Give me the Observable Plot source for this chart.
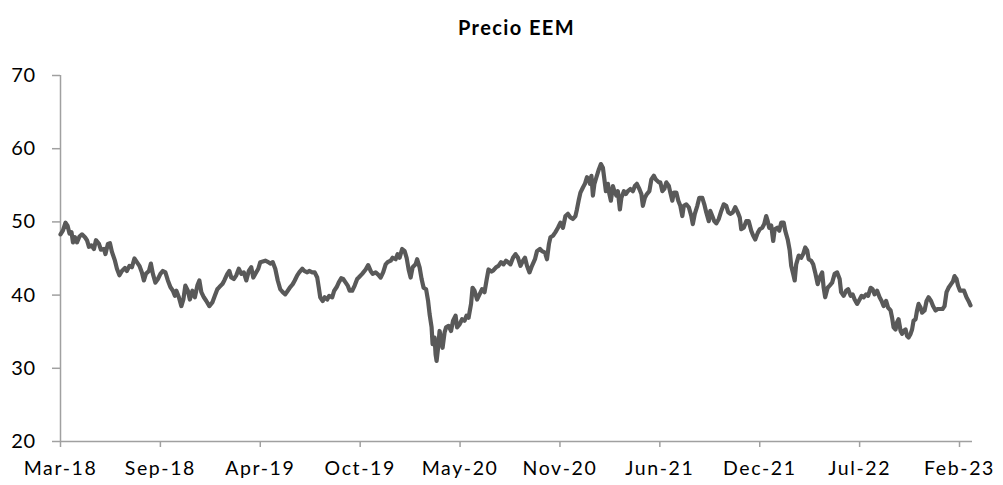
<!DOCTYPE html>
<html>
<head>
<meta charset="utf-8">
<script src="https://cdn.jsdelivr.net/npm/d3@7"></script>
<script src="https://cdn.jsdelivr.net/npm/@observablehq/plot@0.6"></script>
<style>
html, body { margin: 0; padding: 0; background: #fff; }
#title { font-family: Lato, sans-serif; font-weight: bold; font-size: 20px; line-height: 24px; letter-spacing: 1.4px;
  width: 1003px; height: 50px; padding-top: 15px; padding-left: 30px; box-sizing: border-box; text-align: center; color: #000; }
g[aria-label="x-axis tick label"] text { letter-spacing: 1.6px; }
g[aria-label="y-axis tick label"] text { letter-spacing: 0.5px; }
</style>
</head>
<body>
<div id="title">Precio EEM</div>
<div id="chart"></div>
<script>
const dates = [
"2018-03-01","2018-03-06","2018-03-11","2018-03-15","2018-03-19","2018-03-23","2018-03-26","2018-03-30","2018-04-03","2018-04-08",
"2018-04-13","2018-04-19","2018-04-23","2018-04-27","2018-05-02","2018-05-07","2018-05-11","2018-05-17","2018-05-21","2018-05-27",
"2018-05-30","2018-06-04","2018-06-08","2018-06-12","2018-06-18","2018-06-22","2018-06-27","2018-07-02","2018-07-08","2018-07-12",
"2018-07-17","2018-07-22","2018-07-27","2018-08-01","2018-08-06","2018-08-11","2018-08-15","2018-08-19","2018-08-25","2018-08-29",
"2018-09-02","2018-09-07","2018-09-12","2018-09-17","2018-09-22","2018-09-27","2018-10-02","2018-10-07","2018-10-12","2018-10-16",
"2018-10-19","2018-10-24","2018-10-29","2018-11-02","2018-11-06","2018-11-11","2018-11-15","2018-11-20","2018-11-25","2018-11-30",
"2018-12-04","2018-12-08","2018-12-13","2018-12-18","2018-12-24","2018-12-30","2019-01-04","2019-01-09","2019-01-13","2019-01-19",
"2019-01-23","2019-01-29","2019-02-02","2019-02-06","2019-02-11","2019-02-16","2019-02-21","2019-02-26","2019-03-03","2019-03-08",
"2019-03-13","2019-03-18","2019-03-22","2019-03-26","2019-04-01","2019-04-05","2019-04-10","2019-04-15","2019-04-21","2019-04-25",
"2019-04-30","2019-05-05","2019-05-10","2019-05-15","2019-05-20","2019-05-25","2019-05-30","2019-06-04","2019-06-09","2019-06-13",
"2019-06-18","2019-06-22","2019-06-28","2019-07-02","2019-07-08","2019-07-12","2019-07-18","2019-07-23","2019-07-28","2019-07-31",
"2019-08-03","2019-08-08","2019-08-12","2019-08-17","2019-08-21","2019-08-27","2019-08-31","2019-09-05","2019-09-09","2019-09-14",
"2019-09-18","2019-09-23","2019-09-27","2019-10-01","2019-10-06","2019-10-11","2019-10-16","2019-10-19","2019-10-26","2019-11-02",
"2019-11-07","2019-11-12","2019-11-16","2019-11-22","2019-11-27","2019-12-02","2019-12-07","2019-12-12","2019-12-16","2019-12-22",
"2019-12-26","2020-01-01","2020-01-05","2020-01-09","2020-01-14","2020-01-19","2020-01-23","2020-01-27","2020-01-31","2020-02-04",
"2020-02-10","2020-02-13","2020-02-18","2020-02-22","2020-02-26","2020-03-02","2020-03-06","2020-03-09","2020-03-13","2020-03-15",
"2020-03-19","2020-03-21","2020-03-23","2020-03-26","2020-03-29","2020-04-01","2020-04-04","2020-04-08","2020-04-11","2020-04-16",
"2020-04-21","2020-04-25","2020-04-30","2020-05-03","2020-05-08","2020-05-13","2020-05-18","2020-05-22","2020-05-26","2020-05-31",
"2020-06-03","2020-06-07","2020-06-12","2020-06-17","2020-06-22","2020-06-27","2020-07-01","2020-07-05","2020-07-11","2020-07-15",
"2020-07-20","2020-07-25","2020-07-30","2020-08-04","2020-08-09","2020-08-13","2020-08-18","2020-08-23","2020-08-28","2020-09-02",
"2020-09-07","2020-09-12","2020-09-16","2020-09-20","2020-09-25","2020-09-30","2020-10-06","2020-10-10","2020-10-16","2020-10-20",
"2020-10-26","2020-10-30","2020-11-03","2020-11-06","2020-11-11","2020-11-16","2020-11-21","2020-11-26","2020-12-01","2020-12-06",
"2020-12-11","2020-12-16","2020-12-21","2020-12-26","2020-12-29","2021-01-02","2021-01-05","2021-01-10","2021-01-14","2021-01-18",
"2021-01-22","2021-01-24","2021-01-27","2021-01-30","2021-02-02","2021-02-06","2021-02-11","2021-02-15","2021-02-19","2021-02-22",
"2021-02-25","2021-03-01","2021-03-04","2021-03-07","2021-03-11","2021-03-14","2021-03-18","2021-03-21","2021-03-25","2021-03-28",
"2021-04-02","2021-04-06","2021-04-10","2021-04-15","2021-04-20","2021-04-24","2021-04-28","2021-05-03","2021-05-07","2021-05-10",
"2021-05-14","2021-05-18","2021-05-23","2021-05-27","2021-06-01","2021-06-05","2021-06-11","2021-06-14","2021-06-18","2021-06-22",
"2021-06-26","2021-07-01","2021-07-04","2021-07-08","2021-07-11","2021-07-16","2021-07-20","2021-07-24","2021-07-28","2021-07-31",
"2021-08-05","2021-08-10","2021-08-15","2021-08-18","2021-08-22","2021-08-27","2021-08-31","2021-09-06","2021-09-10","2021-09-14",
"2021-09-19","2021-09-22","2021-09-26","2021-09-30","2021-10-04","2021-10-09","2021-10-14","2021-10-19","2021-10-24","2021-10-28",
"2021-11-01","2021-11-06","2021-11-11","2021-11-16","2021-11-20","2021-11-23","2021-11-28","2021-12-03","2021-12-08","2021-12-13",
"2021-12-17","2021-12-21","2021-12-26","2021-12-30","2022-01-04","2022-01-08","2022-01-12","2022-01-15","2022-01-18","2022-01-22",
"2022-01-26","2022-01-29","2022-02-03","2022-02-07","2022-02-11","2022-02-16","2022-02-19","2022-02-24","2022-02-28","2022-03-03",
"2022-03-07","2022-03-10","2022-03-13","2022-03-18","2022-03-23","2022-03-27","2022-03-31","2022-04-04","2022-04-07","2022-04-12",
"2022-04-16","2022-04-20","2022-04-25","2022-04-29","2022-05-04","2022-05-07","2022-05-10","2022-05-15","2022-05-19","2022-05-24",
"2022-05-29","2022-06-03","2022-06-08","2022-06-11","2022-06-16","2022-06-21","2022-06-25","2022-06-30","2022-07-04","2022-07-08",
"2022-07-13","2022-07-18","2022-07-22","2022-07-26","2022-07-31","2022-08-04","2022-08-09","2022-08-13","2022-08-17","2022-08-22",
"2022-08-27","2022-08-31","2022-09-04","2022-09-09","2022-09-13","2022-09-18","2022-09-21","2022-09-24","2022-09-28","2022-10-01",
"2022-10-04","2022-10-08","2022-10-11","2022-10-14","2022-10-18","2022-10-21","2022-10-24","2022-10-28","2022-10-31","2022-11-03",
"2022-11-07","2022-11-10","2022-11-13","2022-11-17","2022-11-20","2022-11-25","2022-11-29","2022-12-03","2022-12-08","2022-12-12",
"2022-12-17","2022-12-21","2022-12-27","2022-12-31","2023-01-04","2023-01-08","2023-01-12","2023-01-17","2023-01-21","2023-01-24",
"2023-01-28","2023-01-31","2023-02-04","2023-02-08","2023-02-12","2023-02-17","2023-02-21","2023-02-25"
];
const values = [
48.3,48.85,49.9,49.5,48.4,48.6,47.2,47.9,47.2,48.0,
48.3,47.9,47.5,46.6,46.8,46.3,47.5,47.0,46.2,46.3,
45.6,47.0,47.1,45.9,44.7,43.6,42.7,43.3,43.7,43.3,
44.0,43.8,45.0,44.5,44.0,43.1,42.0,42.9,43.3,44.3,
42.9,41.7,42.2,42.9,43.3,43.1,42.0,41.1,40.6,39.9,
40.6,39.7,38.5,39.4,41.3,40.6,39.4,40.6,39.7,41.3,
42.0,40.4,39.7,39.2,38.5,39.0,39.9,40.8,41.1,41.5,
42.0,42.9,43.3,42.4,42.2,42.7,43.6,42.9,43.1,42.0,
43.3,43.8,42.4,42.9,43.6,44.5,44.6,44.7,44.5,44.3,
44.5,43.6,42.0,40.8,40.4,40.1,40.6,41.1,41.5,42.0,
42.7,43.1,43.6,43.3,43.1,43.3,43.1,43.1,42.4,41.1,
39.7,39.2,39.7,39.4,39.9,39.7,40.6,41.1,41.7,42.3,
42.2,41.7,41.3,40.6,40.6,41.3,42.2,42.4,42.9,43.5,
44.1,43.3,42.9,43.1,42.8,42.4,43.1,44.2,44.5,44.7,
45.1,44.9,45.6,45.1,46.3,46.0,45.1,43.5,42.4,43.8,
44.2,44.9,43.8,42.2,41.0,40.8,39.2,37.4,35.6,33.3,
34.2,31.9,31.0,32.8,35.1,34.0,32.8,34.9,35.6,35.8,
35.1,36.5,37.2,35.6,36.0,36.7,36.5,37.2,36.9,38.8,
41.0,40.6,39.4,40.1,40.8,40.4,42.0,43.5,43.2,43.4,
43.8,44.0,44.5,44.2,44.7,44.5,44.2,45.1,45.6,45.1,
44.0,44.7,45.1,44.0,43.1,44.0,44.9,46.0,46.3,46.0,
45.8,44.9,47.0,47.9,48.1,48.6,49.2,49.9,49.2,50.8,
51.1,50.6,50.4,50.8,51.7,53.1,54.0,54.7,55.2,56.1,
55.8,55.2,56.3,53.6,55.2,56.1,57.2,57.9,57.4,55.8,
54.2,55.2,53.8,52.9,54.9,54.2,53.6,54.2,51.7,53.3,
54.2,53.8,54.2,54.5,54.2,54.9,55.2,54.5,53.8,52.2,
53.3,53.8,54.2,55.8,56.3,55.8,55.4,55.4,54.2,54.5,
55.4,54.9,54.0,52.9,54.0,54.0,52.9,52.2,50.8,52.2,
52.4,52.0,50.8,49.7,51.1,52.2,53.3,53.3,52.4,51.3,
50.1,51.5,50.8,50.1,49.8,50.4,51.5,52.4,52.2,51.3,
51.1,51.3,52.0,51.3,50.6,49.0,49.2,50.1,50.1,48.8,
48.1,47.6,48.5,49.0,49.2,49.7,50.8,50.1,49.2,49.5,
47.4,49.0,49.2,48.8,49.9,49.9,48.8,47.6,46.1,44.0,
42.9,42.0,44.2,45.4,45.1,45.6,46.5,46.1,44.9,44.7,
44.2,43.1,41.5,42.4,43.1,41.0,39.7,41.0,41.3,41.7,
42.9,43.1,42.2,40.4,39.9,40.6,40.8,39.9,40.1,39.4,
38.8,39.4,39.9,39.7,40.1,39.9,41.0,40.8,40.1,40.6,
39.7,39.2,38.5,39.2,38.3,37.9,36.9,35.6,35.3,36.3,
36.7,35.1,34.7,35.1,35.3,34.4,34.2,34.7,35.3,36.5,
36.7,37.9,38.8,38.3,37.6,37.9,39.2,39.7,39.2,38.5,
37.9,38.1,38.1,38.1,38.5,40.4,41.0,41.5,41.9,42.6,
42.2,41.3,40.6,40.6,40.6,39.7,39.2,38.6
];
const yTicks = [20, 30, 40, 50, 60, 70];
const tickDates = ["2018-03-01","2018-09-17","2019-04-05","2019-10-22","2020-05-09","2020-11-25","2021-06-13","2021-12-30","2022-07-18","2023-02-03"];
const tickLabels = ["Mar-18","Sep-18","Apr-19","Oct-19","May-20","Nov-20","Jun-21","Dec-21","Jul-22","Feb-23"];
const xStart = "2018-03-01", xEnd = "2023-03-01";

const data = dates.map((d, i) => ({date: new Date(d), value: values[i]}));
const tickDateObjs = tickDates.map(d => new Date(d));
const labelMap = new Map(tickDateObjs.map((d, i) => [+d, tickLabels[i]]));
const axisColor = "#a0a0a0";

const chart = Plot.plot({
  width: 1003,
  height: 435,
  marginLeft: 60,
  marginRight: 31,
  marginTop: 25,
  marginBottom: 44,
  style: {fontFamily: "Lato, sans-serif", fontSize: "19px", color: "#000", background: "#fff"},
  x: {type: "utc", domain: [new Date(xStart), new Date(xEnd)], label: null},
  y: {domain: [20, 70], label: null},
  marks: [
    Plot.axisY({ticks: yTicks, tickSize: 8, tickPadding: 17, tickFormat: d => String(d), stroke: axisColor, strokeWidth: 1.5, fill: "#000", fontSize: 20, label: null}),
    Plot.axisX({ticks: tickDateObjs, tickSize: 6, tickPadding: 14, tickFormat: d => labelMap.get(+d), stroke: axisColor, strokeWidth: 1.5, fill: "#000", fontSize: 19.5, label: null}),
    Plot.ruleX([new Date(xStart)], {stroke: axisColor, strokeWidth: 1.5}),
    Plot.ruleY([20], {stroke: axisColor, strokeWidth: 1.5}),
    Plot.lineY(data, {x: "date", y: "value", stroke: "#595959", strokeWidth: 4.2, strokeLinejoin: "round", strokeLinecap: "round"})
  ]
});
document.getElementById("chart").appendChild(chart);
</script>
</body>
</html>
